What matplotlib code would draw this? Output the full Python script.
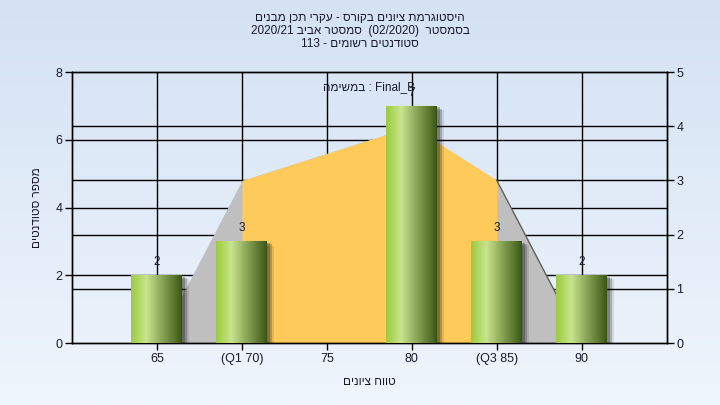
import numpy as np
import matplotlib
matplotlib.use("Agg")
import matplotlib.pyplot as plt
import matplotlib.patheffects as pe
from matplotlib.colors import LinearSegmentedColormap

plt.rcParams['font.family'] = ['Liberation Sans', 'DejaVu Sans']

# data
tick_labels = ["65", "(Q1 70)", "75", "80", "(Q3 85)", "90"]
counts = [2, 3, 0, 7, 3, 2]
curve = [0, 3, 3.5, 4, 3, 0]          # right axis (0-5)
q1_idx, q3_idx = 1, 4

# hebrew strings written in visual (left-to-right) order
title_lines = [
    "םינבמ ןכת ירקע - סרוקב םינויצ תמרגוטסיה",
    "2020/21 ביבא רטסמס  (02/2020)  רטסמסב",
    "113 - םימושר םיטנדוטס",
]
inner_note = "המישמב : Final_B"
xlabel = "םינויצ חווט"
ylabel = "םיטנדוטס רפסמ"

text_col = "#1a1a2e"

fig = plt.figure(figsize=(7.2, 4.05), dpi=100)

# light blue gradient background
bg = fig.add_axes([0, 0, 1, 1], zorder=-10)
grad = np.linspace(0, 1, 256).reshape(-1, 1)
bg_cmap = LinearSegmentedColormap.from_list("bg", ["#d4e2f4", "#eff5fc"])
bg.imshow(grad, aspect="auto", cmap=bg_cmap, extent=[0, 1, 0, 1])
bg.set_axis_off()

ax = fig.add_axes([0.1, 0.153, 0.826, 0.669])
ax2 = ax.twinx()
ax.set_zorder(ax2.get_zorder() + 1)
ax.patch.set_visible(False)
ax2.patch.set_facecolor("#b3b3b3")

x = np.arange(len(counts))
ax.set_xlim(-1, len(counts))
ax.set_ylim(0, 8)
ax2.set_ylim(0, 5)

# grid lines, kept behind the areas
ax2.hlines([1, 2, 3, 4], 0, 1, transform=ax2.get_yaxis_transform(), colors="k", lw=1, zorder=0.5)
ax2.hlines([2, 4, 6], 0, 1, transform=ax.get_yaxis_transform(), colors="k", lw=1, zorder=0.5)
ax2.vlines(x, 0, 1, transform=ax2.get_xaxis_transform(), colors="k", lw=1, zorder=0.5)

# areas on the right axis
ax2.fill_between(x, curve, color="#bfbfbf", lw=0, zorder=1)
xs = x[q1_idx:q3_idx + 1]
ax2.fill_between(xs, curve[q1_idx:q3_idx + 1], color="#fecb5a", lw=0, zorder=1.1)
ax2.plot(x[q3_idx:], curve[q3_idx:], color="#606060", lw=1, zorder=1.2)

# bars with a cylinder-like gradient and a soft shadow
shadow = [pe.SimplePatchShadow(offset=(2, -1), shadow_rgbFace="k", alpha=0.25),
          pe.SimplePatchShadow(offset=(3.5, -2), shadow_rgbFace="k", alpha=0.2),
          pe.SimplePatchShadow(offset=(5, -3), shadow_rgbFace="k", alpha=0.1),
          pe.Normal()]
bars = ax.bar(x, counts, width=0.6, color="#8fb648", zorder=3, path_effects=shadow)
bar_cmap = LinearSegmentedColormap.from_list(
    "bar", [(0, "#9ccb3e"), (0.3, "#c9e48e"), (0.6, "#8ba758"), (0.95, "#47621e"), (1, "#3a5016")])
hgrad = np.linspace(0, 1, 128).reshape(1, -1)
for b in bars:
    if b.get_height() <= 0:
        continue
    x0, y0 = b.get_x(), b.get_y()
    im = ax.imshow(hgrad, aspect="auto", cmap=bar_cmap, zorder=4,
                   extent=[x0, x0 + b.get_width(), y0, y0 + b.get_height()])
    im.set_clip_path(b)
ax.set_xlim(-1, len(counts))
ax.set_ylim(0, 8)

labels = [str(c) if c > 0 else "" for c in counts]
ax.bar_label(bars, labels=labels, padding=5, fontsize=8.5, color=text_col, zorder=5)

ax.text(0.5, 0.946, inner_note, transform=ax.transAxes, ha="center", va="center",
        fontsize=8.5, color=text_col, zorder=6)

ax.set_xticks(x)
ax.set_xticklabels(tick_labels)
ax.set_yticks([0, 2, 4, 6, 8])
ax2.set_yticks([0, 1, 2, 3, 4, 5])
for a in (ax, ax2):
    a.tick_params(axis="both", direction="out", length=5, width=1, color="k",
                  labelsize=9, labelcolor=text_col, pad=2)
    for s in a.spines.values():
        s.set_color("k")
        s.set_linewidth(1)

ax.set_xlabel(xlabel, fontsize=8.5, color=text_col, labelpad=8)
ax.set_ylabel(ylabel, fontsize=8.5, color=text_col, labelpad=9)

for i, line in enumerate(title_lines):
    fig.text(0.5, 1 - (18 + 13 * i) / 405, line, ha="center", va="center",
             fontsize=8.5, color=text_col)

fig.savefig("out.png", dpi=100)
